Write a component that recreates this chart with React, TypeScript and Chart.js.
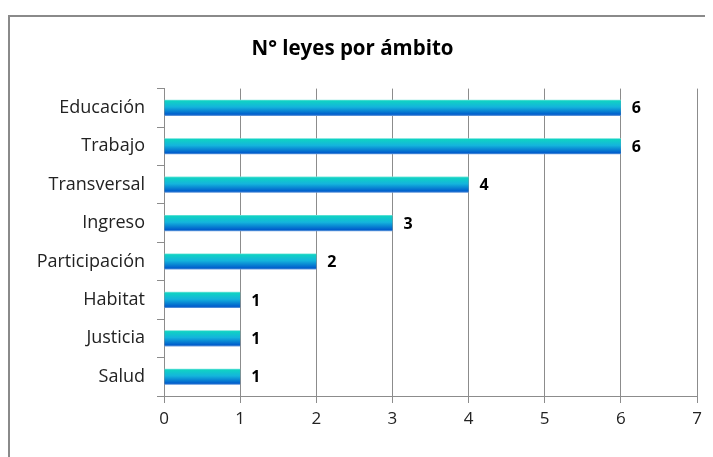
import React, { useEffect, useRef } from "react";
import { Chart, registerables } from "chart.js";

Chart.register(...registerables);

const categories = ["Educación", "Trabajo", "Transversal", "Ingreso", "Participación", "Habitat", "Justicia", "Salud"];
const values = [6, 6, 4, 3, 2, 1, 1, 1];
const xTicks = [0, 1, 2, 3, 4, 5, 6, 7];
const title = "N° leyes por ámbito";

const FONT = "'Open Sans', 'Noto Sans', sans-serif";
const BAR_PCT = 0.42;

const framePlugin = {
  id: "frame",
  beforeDraw(chart: any) {
    const ctx = chart.ctx;
    ctx.save();
    ctx.fillStyle = "#ffffff";
    ctx.fillRect(0, 0, chart.width, chart.height);
    ctx.strokeStyle = "#8a8a8a";
    ctx.lineWidth = 2;
    ctx.beginPath();
    ctx.moveTo(1, chart.height + 5);
    ctx.lineTo(1, 8);
    ctx.lineTo(chart.width + 5, 8);
    ctx.stroke();
    ctx.restore();
  },
};

const labelPlugin = {
  id: "valueLabels",
  afterDatasetsDraw(chart: any) {
    const ctx = chart.ctx;
    const meta = chart.getDatasetMeta(0);
    ctx.save();
    ctx.font = `bold 16px ${FONT}`;
    ctx.fillStyle = "#000000";
    ctx.textAlign = "left";
    ctx.textBaseline = "middle";
    meta.data.forEach((el: any, i: number) => {
      ctx.fillText(String(values[i]), el.x + 11, el.y + 1);
    });
    ctx.restore();
  },
};

export default function App() {
  const ref = useRef<HTMLCanvasElement>(null);
  useEffect(() => {
    if (!ref.current) return;
    const chart = new Chart(ref.current, {
      type: "bar",
      data: {
        labels: categories,
        datasets: [
          {
            data: values,
            barPercentage: BAR_PCT,
            categoryPercentage: 1,
            borderWidth: 0,
            backgroundColor: (c: any) => {
              const ch = c.chart;
              const ys = ch.scales && ch.scales.y;
              if (!ch.chartArea || !ys || c.dataIndex === undefined) return "#18a8e0";
              const yc = ys.getPixelForValue(c.dataIndex);
              const band = (ch.chartArea.bottom - ch.chartArea.top) / categories.length;
              const t = band * BAR_PCT;
              const g = ch.ctx.createLinearGradient(0, yc - t / 2, 0, yc + t / 2);
              g.addColorStop(0, "#7fe6de");
              g.addColorStop(0.08, "#10d2c4");
              g.addColorStop(0.45, "#14b4dc");
              g.addColorStop(0.9, "#005ecc");
              g.addColorStop(1, "#6f9fdc");
              return g;
            },
          },
        ],
      },
      options: {
        indexAxis: "y",
        animation: false,
        responsive: false,
        maintainAspectRatio: false,
        layout: { padding: { top: 29, right: 16, left: 0, bottom: 0 } },
        plugins: {
          legend: { display: false },
          tooltip: { enabled: false },
          title: {
            display: true,
            text: title,
            color: "#000000",
            font: { family: FONT, size: 20.5, weight: "bold", lineHeight: 1.2 },
            padding: { top: 0, bottom: 27 },
          },
        },
        scales: {
          x: {
            min: 0,
            max: 7,
            afterBuildTicks: (s: any) => {
              s.ticks = xTicks.map((v) => ({ value: v }));
            },
            afterFit: (s: any) => {
              s.height = 61;
            },
            grid: { color: "#8c8c8c", lineWidth: 1, tickLength: 7, drawTicks: true },
            border: { display: true, color: "#8c8c8c", width: 1 },
            ticks: { color: "#222222", font: { family: FONT, size: 17 }, padding: 6 },
          },
          y: {
            afterFit: (s: any) => {
              s.width = 156;
            },
            grid: { drawOnChartArea: false, drawTicks: true, tickLength: 7, color: "#8c8c8c", offset: true },
            border: { display: true, color: "#8c8c8c", width: 1 },
            ticks: { color: "#222222", font: { family: FONT, size: 18 }, padding: 12 },
          },
        },
      },
      plugins: [framePlugin, labelPlugin],
    });
    return () => chart.destroy();
  }, []);
  return <canvas ref={ref} width={705} height={449} style={{ display: "block", width: 705, height: 449 }} />;
}
